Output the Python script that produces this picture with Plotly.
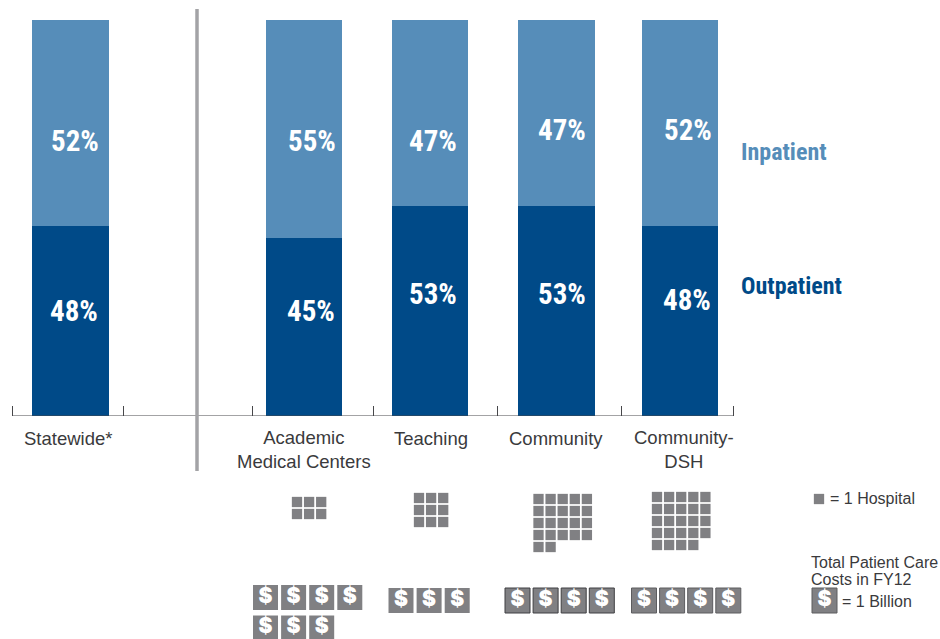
import plotly.graph_objects as go

W, H = 940, 639

# Share of patient care costs by hospital cohort
cohorts = ["Statewide*", "Academic<br>Medical Centers", "Teaching", "Community", "Community-<br>DSH"]
inpatient = [52, 55, 47, 47, 52]
outpatient = [48, 45, 53, 53, 48]
hospital_counts = [6, 9, 22, 24]
billions = [7, 3, 4, 4]

bar_centers = [70.3, 303.8, 430, 556.5, 680]
tick_positions = [12, 123, 252, 373, 497, 621, 733]
BAR_W = 76.6
IN_COLOR = "#568db9"
OUT_COLOR = "#004a88"
GRAY = "#808083"
TEXT = "#3a3a3c"
AXIS = "#47474a"
SANS = "Liberation Sans, Arial, sans-serif"
NARROW = "Roboto Condensed, Liberation Sans Narrow, sans-serif"

fig = go.Figure()
fig.add_bar(x=bar_centers, y=outpatient, width=BAR_W, marker_color=OUT_COLOR, marker_line_width=0,
            name="Outpatient", hoverinfo="skip")
fig.add_bar(x=bar_centers, y=inpatient, width=BAR_W, marker_color=IN_COLOR, marker_line_width=0,
            name="Inpatient", hoverinfo="skip")


def px(x):
    return x / W


def py(y):
    return 1 - y / H


def label(x, y, text, size, color, font=SANS, bold=False, anchor="center"):
    fig.add_annotation(x=px(x), y=py(y), xref="paper", yref="paper", text=f"<b>{text}</b>" if bold else text,
                       showarrow=False, xanchor=anchor, yanchor="middle", align=anchor,
                       font=dict(family=font, size=size, color=color), borderpad=0, borderwidth=0)


# Percent labels sit at hand-tuned heights inside each segment
in_label_xy = [(74.5, 141), (312, 141), (432.5, 141), (562, 130), (688, 130)]
out_label_xy = [(73.5, 311), (310.5, 311), (432.5, 294), (562, 294), (687, 300)]
for (x, y), v in zip(in_label_xy, inpatient):
    label(x, y, f"{v}%", 29, "white", NARROW, True)
for (x, y), v in zip(out_label_xy, outpatient):
    label(x, y, f"{v}%", 29, "white", NARROW, True)

label(741, 152, "Inpatient", 24, IN_COLOR, NARROW, True, "left")
label(741, 286, "Outpatient", 24, OUT_COLOR, NARROW, True, "left")

# Cohort names under the axis
cohort_xy = [(67.5, 438), (304, 449), (431, 438), (556, 438), (684, 449)]
for (x, y), name in zip(cohort_xy, cohorts):
    label(x, y, name, 18.5, TEXT)

# Baseline runs only between the outer ticks
fig.add_shape(type="line", xref="x", yref="y", x0=tick_positions[0], x1=tick_positions[-1], y0=0, y1=0,
              line=dict(color=AXIS, width=1))

# Divider between the statewide bar and the cohorts
fig.add_shape(type="line", xref="paper", yref="paper", x0=px(197), x1=px(197), y0=py(9), y1=py(471),
              line=dict(color="#a3a3a6", width=3.5))


def grid(count, left, top, cols, pitch_x, pitch_y):
    xs = [left + (i % cols) * pitch_x for i in range(count)]
    ys = [top + (i // cols) * pitch_y for i in range(count)]
    return xs, ys


def squares(xs, ys):
    fig.add_scatter(x=xs, y=ys, mode="markers", xaxis="x2", yaxis="y2", hoverinfo="skip", showlegend=False,
                    marker=dict(symbol="square", size=10.3, color=GRAY, line_width=0))


def dollars(xs, ys, edge, edge_w):
    fig.add_scatter(x=xs, y=ys, mode="markers+text", xaxis="x2", yaxis="y2", hoverinfo="skip", showlegend=False,
                    text=["$"] * len(xs), textposition="middle center",
                    textfont=dict(family="Inter, sans-serif", size=21, weight=900, color="white"),
                    marker=dict(symbol="square", size=25, color=GRAY, line=dict(color=edge, width=edge_w)))


# Hospital count pictograms
hosp_origin = [(297, 502), (419, 498), (538.5, 499), (657, 497)]
hosp_cols = [3, 3, 5, 5]
for n, (x, y), cols in zip(hospital_counts, hosp_origin, hosp_cols):
    squares(*grid(n, x, y, cols, 12.1, 12))
squares([819], [499])

# Cost pictograms, one tile per billion
cost_origin = [(265.5, 597.5), (401, 600.5), (517.5, 600.5), (644, 600.5)]
cost_cols = [4, 4, 4, 4]
cost_edge = [(GRAY, 0), (GRAY, 0), ("#3f3f42", 1), ("#5c5c5f", 1)]
for n, (x, y), cols, (edge, ew) in zip(billions, cost_origin, cost_cols, cost_edge):
    dollars(*grid(n, x, y, cols, 28.1, 30.5), edge, ew)
dollars([824.5], [600.5], "#5c5c5f", 1)

# Key
label(830, 499, "= 1 Hospital", 16, TEXT, anchor="left")
label(811, 562, "Total Patient Care", 16, TEXT, anchor="left")
label(811, 579, "Costs in FY12", 16, TEXT, anchor="left")
label(842, 601.5, "= 1 Billion", 16, TEXT, anchor="left")

fig.update_layout(
    width=W, height=H, margin=dict(l=0, r=0, t=0, b=0), barmode="stack", showlegend=False,
    paper_bgcolor="white", plot_bgcolor="rgba(0,0,0,0)",
    xaxis=dict(domain=[0, 1], range=[0, W], tickvals=tick_positions, ticktext=[""] * 7,
               ticks="inside", ticklen=10, tickwidth=1, tickcolor=AXIS, showline=False,
               showgrid=False, zeroline=False, fixedrange=True),
    yaxis=dict(domain=[py(416), py(20)], range=[0, 100], visible=False, fixedrange=True),
    xaxis2=dict(domain=[0, 1], range=[0, W], visible=False, anchor="y2", fixedrange=True),
    yaxis2=dict(domain=[0, 1], range=[H, 0], visible=False, anchor="x2", fixedrange=True),
)
fig.write_html("out.html", config={"displayModeBar": False})
